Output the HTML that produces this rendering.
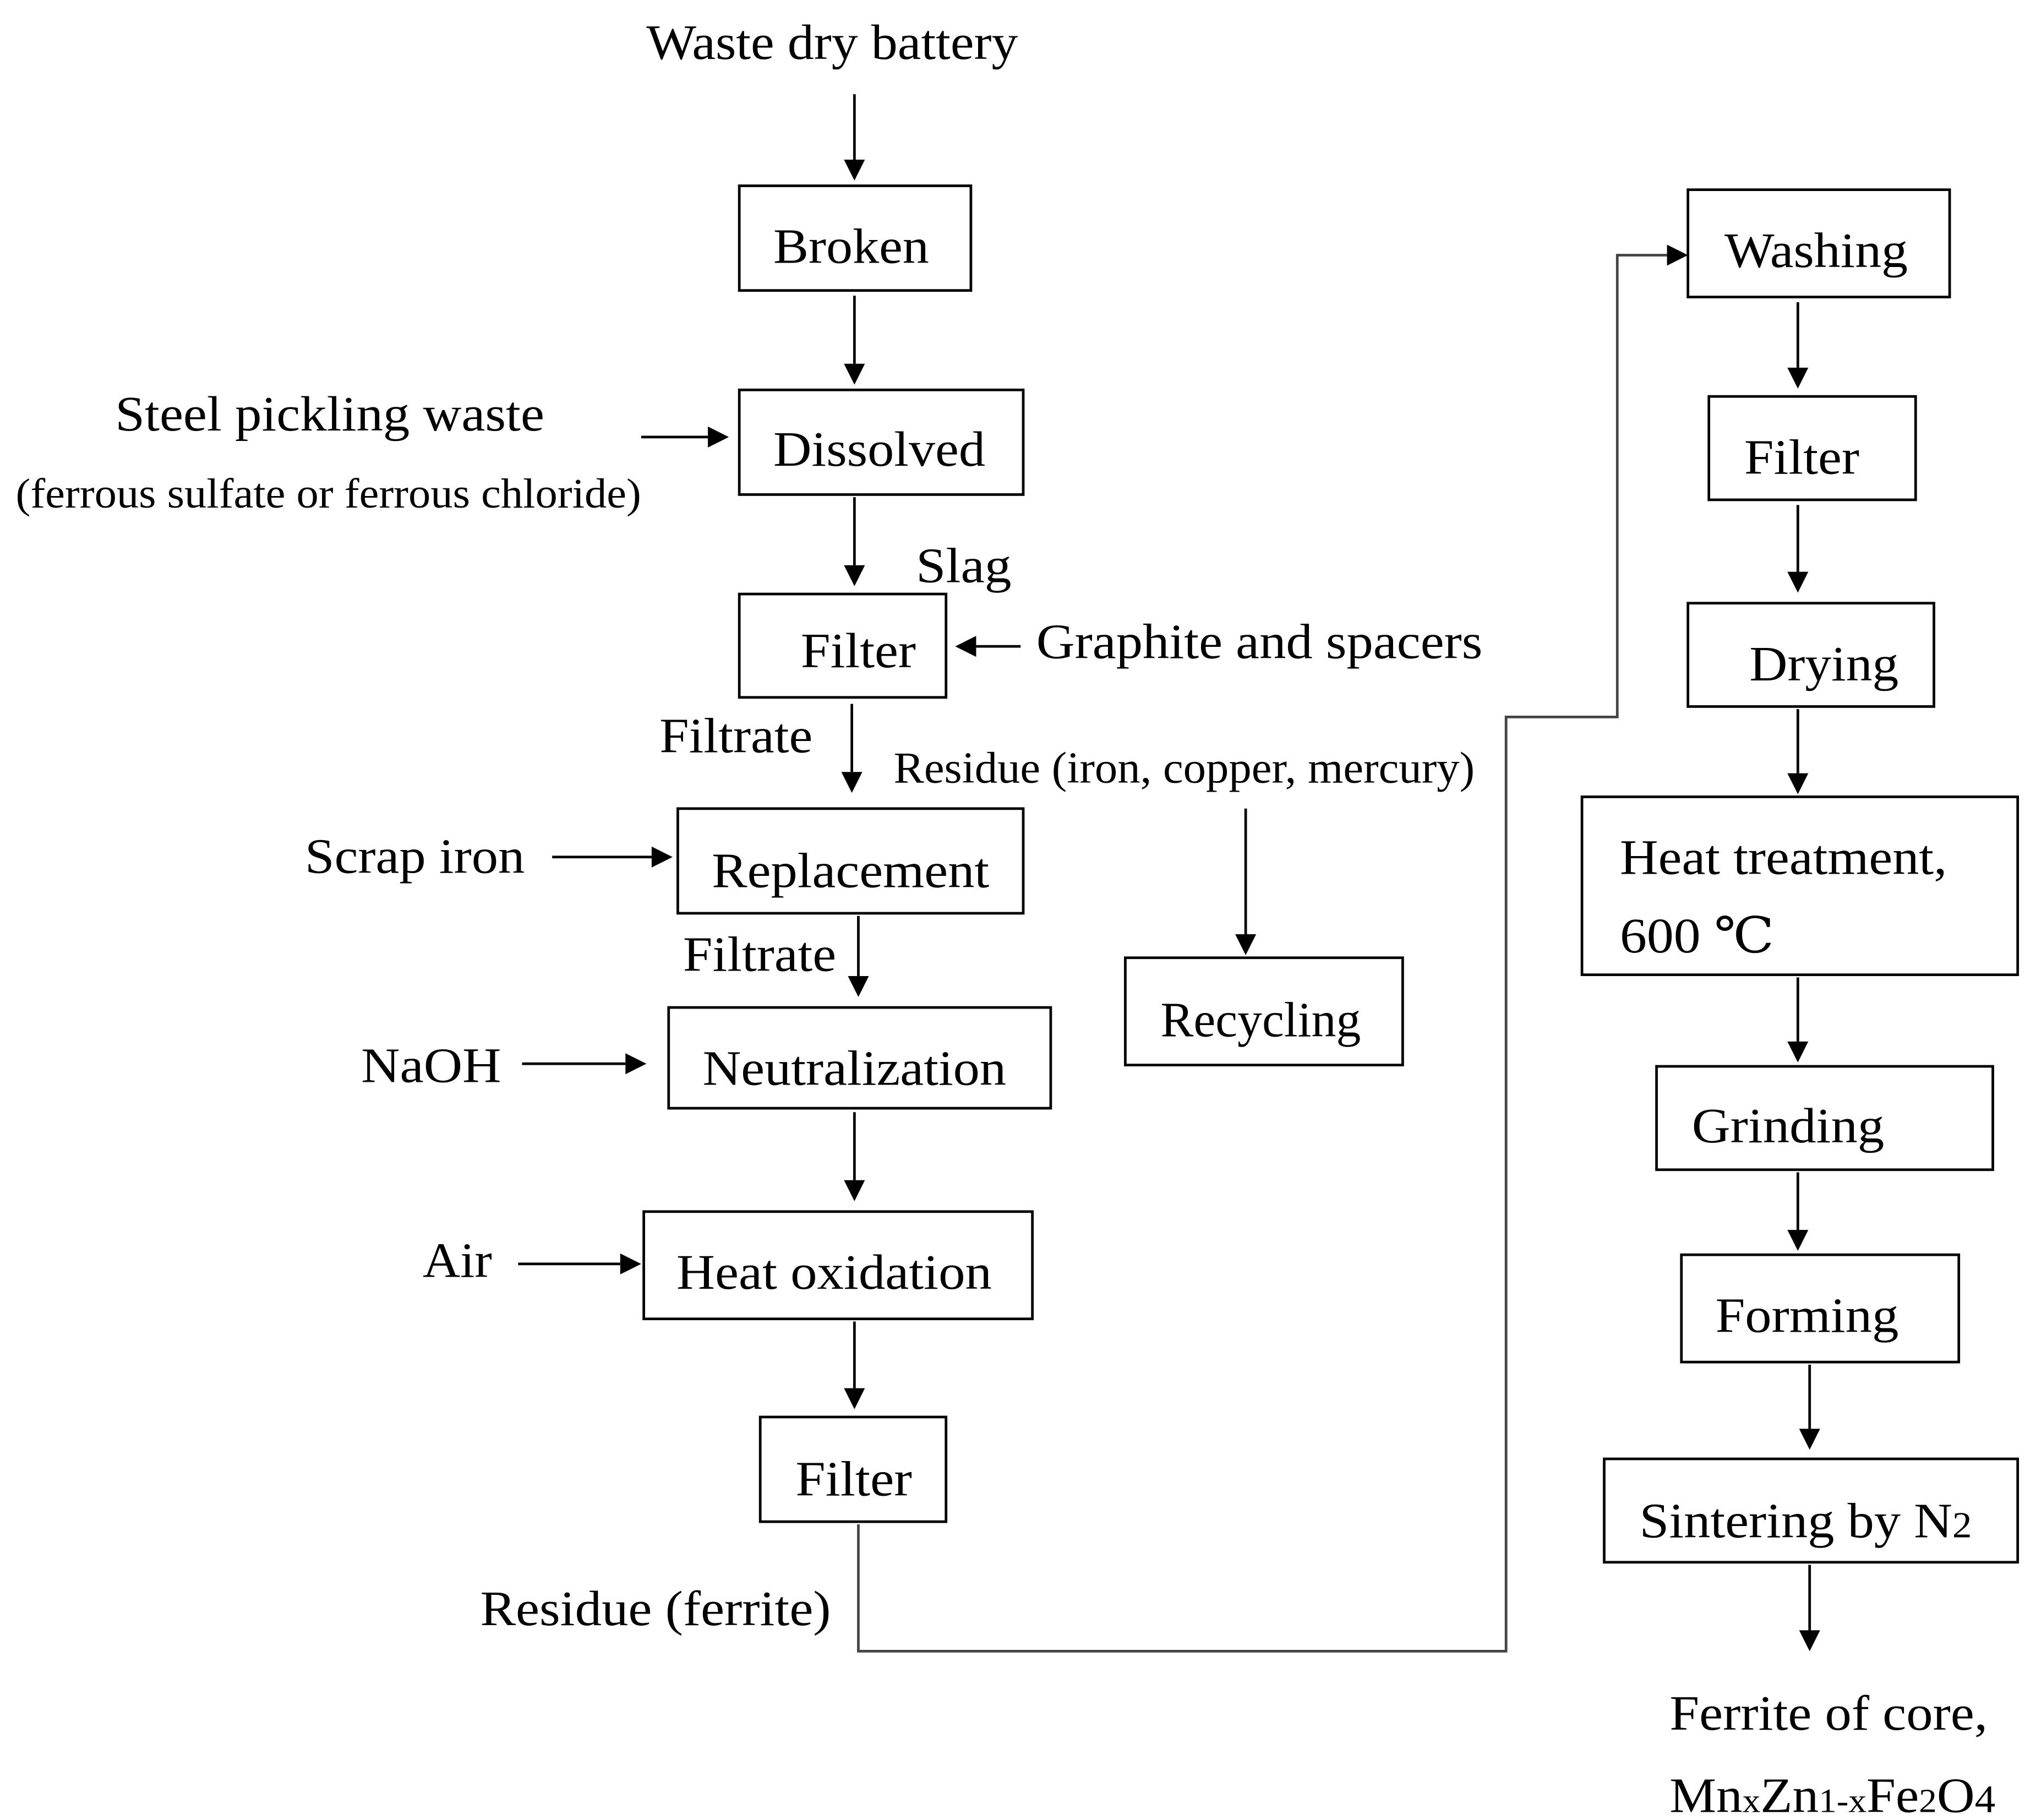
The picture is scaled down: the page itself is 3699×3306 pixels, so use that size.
<!DOCTYPE html>
<html><head><meta charset="utf-8"><style>
html,body{margin:0;padding:0;background:#fff;}
svg{display:block;}
text{font-family:"Liberation Serif","DejaVu Serif",serif;fill:#000;}
</style></head><body>
<svg width="3699" height="3306" viewBox="0 0 1556 1391" preserveAspectRatio="none" xmlns="http://www.w3.org/2000/svg">
<defs>
<marker id="a" markerWidth="8" markerHeight="8" refX="7" refY="4" orient="auto" markerUnits="userSpaceOnUse" viewBox="0 0 8 8">
<path d="M0,0 L8,4 L0,8 z" fill="#000"/>
</marker>
</defs>
<g fill="none" stroke="#000" stroke-width="2">
<rect x="565" y="142" width="177" height="80"/>
<rect x="565" y="298" width="217" height="80"/>
<rect x="565" y="454" width="158" height="79"/>
<rect x="518" y="618" width="264" height="80"/>
<rect x="860" y="732" width="212" height="82"/>
<rect x="511" y="770" width="292" height="77"/>
<rect x="492" y="926" width="297" height="82"/>
<rect x="581" y="1083" width="142" height="80"/>
<rect x="1290" y="145" width="200" height="82"/>
<rect x="1306" y="303" width="158" height="79"/>
<rect x="1290" y="461" width="188" height="79"/>
<rect x="1209" y="609" width="333" height="136"/>
<rect x="1266" y="815" width="257" height="79"/>
<rect x="1285" y="959" width="212" height="82"/>
<rect x="1226" y="1115" width="316" height="79"/>
</g>
<g stroke="#000" stroke-width="2" fill="none">
<path d="M653 72 V122"/><path d="M653 226 V278"/><path d="M490 334 H541"/>
<path d="M653 380 V432"/><path d="M780 494 H746"/><path d="M651 538 V590"/>
<path d="M952 618 V714"/><path d="M422 655 H498"/><path d="M656 700 V746"/>
<path d="M399 813 H478"/><path d="M653 850 V902"/><path d="M396 966 H474"/>
<path d="M653 1010 V1061"/>
<path d="M1374 231 V281"/><path d="M1374 386 V437"/><path d="M1374 542 V591"/>
<path d="M1374 747 V796"/><path d="M1374 896 V940"/><path d="M1383 1043 V1092"/>
<path d="M1383 1196 V1246"/>
<path d="M656 1165 V1262 H1151 V548 H1236 V195 H1274" stroke="#444"/>
</g>
<g fill="#000">
<path d="M645 122 L661 122 L653 138 z"/>
<path d="M645 278 L661 278 L653 294 z"/>
<path d="M541 326 L541 342 L557 334 z"/>
<path d="M645 432 L661 432 L653 448 z"/>
<path d="M746 486 L746 502 L730 494 z"/>
<path d="M643 590 L659 590 L651 606 z"/>
<path d="M944 714 L960 714 L952 730 z"/>
<path d="M498 647 L498 663 L514 655 z"/>
<path d="M648 746 L664 746 L656 762 z"/>
<path d="M478 805 L478 821 L494 813 z"/>
<path d="M645 902 L661 902 L653 918 z"/>
<path d="M474 958 L474 974 L490 966 z"/>
<path d="M645 1061 L661 1061 L653 1077 z"/>
<path d="M1274 187 L1274 203 L1290 195 z"/>
<path d="M1366 281 L1382 281 L1374 297 z"/>
<path d="M1366 437 L1382 437 L1374 453 z"/>
<path d="M1366 591 L1382 591 L1374 607 z"/>
<path d="M1366 796 L1382 796 L1374 812 z"/>
<path d="M1366 940 L1382 940 L1374 956 z"/>
<path d="M1375 1092 L1391 1092 L1383 1108 z"/>
<path d="M1375 1246 L1391 1246 L1383 1262 z"/>
</g>
<g font-size="38">
<text x="494" y="45" textLength="284" lengthAdjust="spacingAndGlyphs">Waste dry battery</text>
<text x="591" y="201" textLength="119" lengthAdjust="spacingAndGlyphs">Broken</text>
<text x="591" y="356" textLength="162" lengthAdjust="spacingAndGlyphs">Dissolved</text>
<text x="88" y="329" textLength="328" lengthAdjust="spacingAndGlyphs">Steel pickling waste</text>
<text x="12" y="388" font-size="32" textLength="478" lengthAdjust="spacingAndGlyphs">(ferrous sulfate or ferrous chloride)</text>
<text x="700" y="445" textLength="73" lengthAdjust="spacingAndGlyphs">Slag</text>
<text x="612" y="510" textLength="88" lengthAdjust="spacingAndGlyphs">Filter</text>
<text x="792" y="503" textLength="341" lengthAdjust="spacingAndGlyphs">Graphite and spacers</text>
<text x="504" y="575" textLength="117" lengthAdjust="spacingAndGlyphs">Filtrate</text>
<text x="683" y="598" font-size="34" textLength="444" lengthAdjust="spacingAndGlyphs">Residue (iron, copper, mercury)</text>
<text x="233" y="667" textLength="168" lengthAdjust="spacingAndGlyphs">Scrap iron</text>
<text x="544" y="678" textLength="212" lengthAdjust="spacingAndGlyphs">Replacement</text>
<text x="887" y="792" textLength="153" lengthAdjust="spacingAndGlyphs">Recycling</text>
<text x="522" y="742" textLength="117" lengthAdjust="spacingAndGlyphs">Filtrate</text>
<text x="537" y="829" textLength="232" lengthAdjust="spacingAndGlyphs">Neutralization</text>
<text x="276" y="827" textLength="107" lengthAdjust="spacingAndGlyphs">NaOH</text>
<text x="323" y="976" textLength="53" lengthAdjust="spacingAndGlyphs">Air</text>
<text x="517" y="985" textLength="241" lengthAdjust="spacingAndGlyphs">Heat oxidation</text>
<text x="608" y="1143" textLength="89" lengthAdjust="spacingAndGlyphs">Filter</text>
<text x="367" y="1242" textLength="268" lengthAdjust="spacingAndGlyphs">Residue (ferrite)</text>
<text x="1318" y="204" textLength="140" lengthAdjust="spacingAndGlyphs">Washing</text>
<text x="1333" y="362" textLength="88" lengthAdjust="spacingAndGlyphs">Filter</text>
<text x="1337" y="520" textLength="114" lengthAdjust="spacingAndGlyphs">Drying</text>
<text x="1238" y="668" textLength="250" lengthAdjust="spacingAndGlyphs">Heat treatment,</text>
<text x="1238" y="728" textLength="118" lengthAdjust="spacingAndGlyphs">600  ℃</text>
<text x="1293" y="873" textLength="147" lengthAdjust="spacingAndGlyphs">Grinding</text>
<text x="1311" y="1018" textLength="140" lengthAdjust="spacingAndGlyphs">Forming</text>
<text x="1253" y="1175" textLength="254" lengthAdjust="spacingAndGlyphs">Sintering by N<tspan font-size="28">2</tspan></text>
<text x="1276" y="1322" textLength="243" lengthAdjust="spacingAndGlyphs">Ferrite of core,</text>
<text x="1276" y="1385" textLength="249" lengthAdjust="spacingAndGlyphs">Mn<tspan font-size="26">x</tspan>Zn<tspan font-size="26">1-x</tspan>Fe<tspan font-size="26">2</tspan>O<tspan font-size="30">4</tspan></text>
</g>
</svg>
</body></html>
